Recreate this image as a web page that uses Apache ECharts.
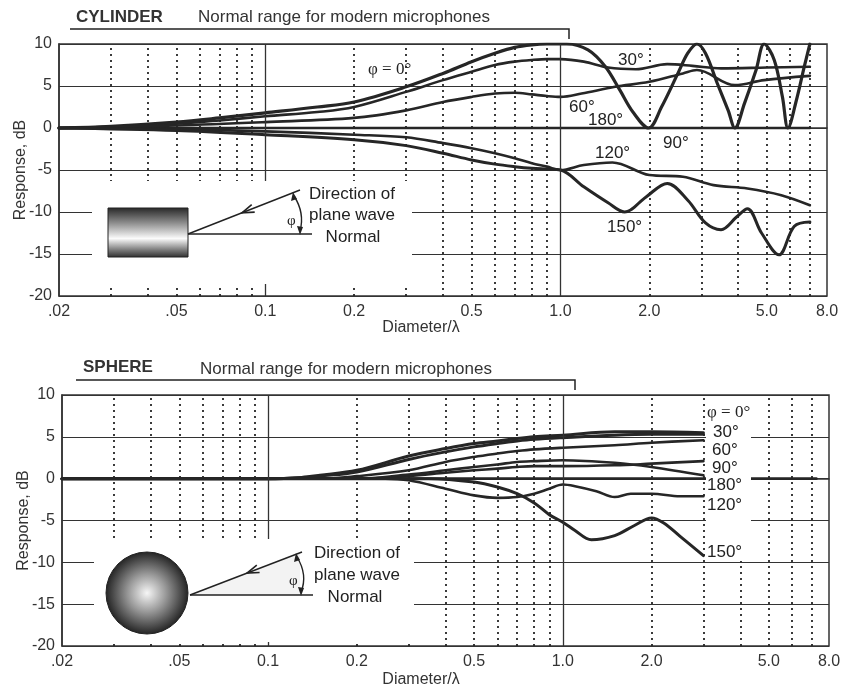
<!DOCTYPE html>
<html>
<head>
<meta charset="utf-8">
<script src="https://cdn.jsdelivr.net/npm/echarts@6/dist/echarts.min.js"></script>
<style>
  html, body { margin: 0; background: #fff; }
  #chart { width: 846px; height: 690px; }
</style>
</head>
<body>
<div id="chart"></div>
<script>
// tick labels along Diameter/lambda
const xTicks = [0.02, 0.05, 0.1, 0.2, 0.5, 1, 2, 5, 8];
const xTickLabels = ['.02', '.05', '0.1', '0.2', '0.5', '1.0', '2.0', '5.0', '8.0'];
// vertical grid lines
const dottedX = [0.03, 0.04, 0.05, 0.06, 0.07, 0.08, 0.09, 0.2, 0.3, 0.4, 0.5, 0.6, 0.7, 0.8, 0.9, 2, 3, 4, 5, 6, 7];
const solidX = [0.1, 1];

// CYLINDER curves  [diameter/lambda, dB]
const cyl0 = [[0.02, 0], [0.03, 0.2], [0.05, 0.7], [0.07, 1.2], [0.1, 1.8], [0.15, 2.5], [0.2, 3.1], [0.3, 4.9],
  [0.4, 6.5], [0.5, 7.9], [0.6, 8.9], [0.7, 9.6], [0.8, 9.9], [0.9, 10], [1.05, 10], [1.24, 9.3], [1.42, 7.3],
  [1.59, 4.5], [1.76, 1.9], [1.99, 0], [2.2, 2.5], [2.5, 6.5], [2.7, 8.9], [2.9, 10], [3.1, 8.9], [3.4, 5.3],
  [3.7, 2.1], [3.9, 0], [4.2, 2.9], [4.6, 6.9], [4.9, 10], [5.3, 8.1], [5.65, 3.7], [5.9, 0], [6.3, 3.3],
  [6.7, 7.3], [7.0, 10]];
const cyl30 = [[0.02, 0], [0.03, 0.15], [0.05, 0.5], [0.07, 0.9], [0.1, 1.4], [0.15, 1.9], [0.2, 2.5], [0.3, 4.3],
  [0.4, 5.7], [0.5, 6.7], [0.6, 7.5], [0.7, 7.9], [0.8, 8.1], [0.9, 8.2], [1.0, 8.2], [1.2, 7.9], [1.45, 7.2],
  [1.8, 7.0], [2.3, 7.6], [2.8, 7.4], [3.5, 7.1], [5, 7.2], [7, 7.3]];
const cyl60 = [[0.02, 0], [0.05, 0.3], [0.1, 0.7], [0.2, 1.2], [0.3, 2.1], [0.4, 3.1], [0.5, 3.7], [0.6, 4.1],
  [0.7, 4.2], [0.8, 4.0], [0.9, 3.8], [1.0, 3.7], [1.18, 4.1], [1.53, 4.9], [2.0, 5.5], [2.6, 6.5], [2.9, 6.9],
  [3.9, 5.1], [4.9, 5.7], [7, 6.2]];
const cyl90 = [[0.02, 0], [7, 0]];
const cyl120 = [[0.02, 0], [0.05, -0.15], [0.1, -0.4], [0.2, -0.8], [0.3, -1.1], [0.4, -1.8], [0.5, -2.4],
  [0.6, -3.0], [0.7, -3.6], [0.8, -4.2], [0.9, -4.6], [1.0, -5.0], [1.2, -4.4], [1.5, -4.1], [2.0, -5.6],
  [2.6, -5.8], [3.3, -6.8], [4.3, -7.2], [5.6, -8.0], [7, -9.2]];
const cyl150 = [[0.02, 0], [0.05, -0.3], [0.1, -0.8], [0.2, -1.4], [0.3, -2.1], [0.4, -3.0], [0.5, -3.8],
  [0.6, -4.3], [0.7, -4.6], [0.8, -4.8], [0.9, -4.9], [1.0, -5.0], [1.2, -7.0], [1.45, -8.9], [1.65, -10],
  [1.95, -8.2], [2.3, -6.6], [2.7, -8.6], [3.1, -11.3], [3.5, -12.1], [3.95, -10.6], [4.3, -9.6], [4.8, -12.5],
  [5.5, -15.1], [6.2, -11.7], [7, -11.2]];

// SPHERE curves
const sph0 = [[0.02, 0], [0.1, 0], [0.13, 0.15], [0.15, 0.4], [0.2, 1.0], [0.3, 2.7], [0.4, 3.6], [0.5, 4.2],
  [0.6, 4.5], [0.7, 4.8], [0.8, 5.0], [1.0, 5.2], [1.5, 5.6], [2.0, 5.6], [3.0, 5.5]];
const sph30 = [[0.02, 0], [0.1, 0], [0.13, 0.1], [0.15, 0.3], [0.2, 0.8], [0.3, 2.3], [0.4, 3.2], [0.5, 3.8],
  [0.6, 4.2], [0.7, 4.5], [0.8, 4.7], [1.0, 4.9], [1.5, 5.2], [2.0, 5.3], [3.0, 5.3]];
const sph60 = [[0.02, 0], [0.15, 0], [0.2, 0.3], [0.3, 1.0], [0.4, 2.0], [0.5, 2.6], [0.6, 3.0], [0.7, 3.3],
  [0.8, 3.5], [1.0, 3.7], [1.5, 4.0], [2.0, 4.3], [3.0, 4.6]];
const sph90 = [[0.02, 0], [0.2, 0], [0.3, 0.3], [0.4, 0.7], [0.5, 1.0], [0.6, 1.2], [0.7, 1.4], [0.8, 1.5],
  [1.0, 1.5], [1.5, 1.6], [2.0, 1.8], [3.0, 2.1]];
const sph180 = [[0.02, 0], [0.2, 0], [0.3, 0.5], [0.4, 1.0], [0.5, 1.4], [0.6, 1.7], [0.7, 2.0], [0.8, 2.1],
  [1.0, 2.2], [1.5, 1.9], [2.0, 1.4], [3.0, 0.4]];
const sphBase = [[0.02, 0], [7.25, 0]];
const sph120 = [[0.02, 0], [0.25, 0], [0.3, -0.2], [0.4, -1.2], [0.5, -2.0], [0.6, -2.3], [0.7, -2.2], [0.8, -1.8],
  [0.9, -1.2], [1.0, -0.7], [1.1, -0.9], [1.3, -1.5], [1.5, -2.2], [1.7, -1.8], [2.0, -1.8], [2.5, -2.1], [3.0, -2.1]];
const sph150 = [[0.02, 0], [0.35, 0], [0.5, -0.4], [0.6, -1.0], [0.7, -1.8], [0.8, -2.9], [0.9, -4.3], [1.0, -5.2],
  [1.1, -6.2], [1.25, -7.3], [1.5, -6.8], [1.75, -5.6], [2.0, -4.7], [2.2, -5.3], [2.5, -6.9], [3.0, -9.2]];

const FONT = "'Liberation Sans', Arial, Helvetica, sans-serif";
const SERIF = "'Liberation Serif', 'Times New Roman', serif";
const INK = '#262626';

const chart = echarts.init(document.getElementById('chart'));

function curve(name, data, g, width) {
  return {
    name: name,
    type: 'line',
    xAxisIndex: g,
    yAxisIndex: g,
    data: data,
    smooth: 0.35,
    showSymbol: false,
    symbol: 'none',
    silent: true,
    animation: false,
    z: 3,
    lineStyle: { color: INK, width: width || 2.6, cap: 'round', join: 'round' },
    emphasis: { disabled: true }
  };
}

// invisible series that only carries the vertical grid lines
function verticalGrid(g) {
  return {
    type: 'line',
    xAxisIndex: g,
    yAxisIndex: g,
    data: [[0.02, 0]],
    showSymbol: false,
    lineStyle: { width: 0 },
    silent: true,
    animation: false,
    z: 1,
    markLine: {
      symbol: ['none', 'none'],
      silent: true,
      animation: false,
      label: { show: false },
      data: dottedX.map(v => ({ xAxis: v, lineStyle: { type: [2, 4], width: 1.8, color: INK } }))
        .concat(solidX.map(v => ({ xAxis: v, lineStyle: { type: 'solid', width: 1.3, color: '#333' } })))
    }
  };
}

function xAxisDef(g) {
  return {
    type: 'log', logBase: 10, gridIndex: g, min: 0.02, max: 8,
    axisLine: { show: true, lineStyle: { color: '#333', width: 1.5 } },
    axisTick: { show: false },
    axisLabel: { show: false },
    splitLine: { show: false }
  };
}

function yAxisDef(g) {
  return {
    type: 'value', gridIndex: g, min: -20, max: 10, interval: 5,
    name: 'Response, dB',
    nameLocation: 'middle',
    nameGap: 30,
    nameMoveOverlap: false,
    nameTextStyle: { fontFamily: FONT, fontSize: 16, color: '#333' },
    axisLine: { show: true, lineStyle: { color: '#333', width: 1.5 } },
    axisTick: { show: false },
    axisLabel: { fontFamily: FONT, fontSize: 16, color: '#333', margin: 7, padding: [7, 0, 0, 0] },
    splitLine: { show: true, lineStyle: { color: '#333', width: 1.2 } }
  };
}

const option = {
  backgroundColor: '#fff',
  animation: false,
  grid: [
    { left: 59, top: 44, width: 768, height: 252, show: true, borderColor: '#333', borderWidth: 1.5,
      backgroundColor: 'transparent', containLabel: false, outerBoundsMode: 'none' },
    { left: 62, top: 395, width: 767, height: 251, show: true, borderColor: '#333', borderWidth: 1.5,
      backgroundColor: 'transparent', containLabel: false, outerBoundsMode: 'none' }
  ],
  xAxis: [xAxisDef(0), xAxisDef(1)],
  yAxis: [yAxisDef(0), yAxisDef(1)],
  series: [
    verticalGrid(0),
    verticalGrid(1),
    curve('90°', cyl90, 0),
    curve('0°', cyl0, 0, 3.2),
    curve('30°', cyl30, 0),
    curve('60°', cyl60, 0),
    curve('120°', cyl120, 0),
    curve('150°', cyl150, 0, 3.0),
    curve('base', sphBase, 1),
    curve('0°', sph0, 1, 3.0),
    curve('30°', sph30, 1, 3.0),
    curve('60°', sph60, 1),
    curve('90°', sph90, 1),
    curve('180°', sph180, 1),
    curve('120°', sph120, 1),
    curve('150°', sph150, 1, 3.0)
  ]
};

chart.setOption(option);

function txt(text, x, y, opts) {
  opts = opts || {};
  return {
    type: 'text', x: x, y: y, z: 12, silent: true,
    style: {
      text: text,
      fill: opts.fill || '#222',
      fontFamily: opts.family || FONT,
      fontSize: opts.size || 17,
      fontWeight: opts.weight || 'normal',
      align: opts.align || 'left',
      verticalAlign: 'middle'
    }
  };
}
function seg(points, width) {
  return { type: 'polyline', z: 11, silent: true, shape: { points: points },
    style: { stroke: '#222', lineWidth: width || 1.4, fill: null } };
}
function tri(points) {
  return { type: 'polygon', z: 11, silent: true, shape: { points: points }, style: { fill: '#222' } };
}

const graphics = [];

// x tick labels placed through the axis scale
[0, 1].forEach(g => {
  const bottom = g === 0 ? 296 : 646;
  xTicks.forEach((v, i) => {
    const px = chart.convertToPixel({ xAxisIndex: g }, v);
    graphics.push(txt(xTickLabels[i], px, bottom + 16, { size: 16, align: 'center', fill: '#333' }));
  });
});

// titles, brackets, axis names
graphics.push(
  txt('CYLINDER', 76, 17, { weight: 'bold', fill: '#333' }),
  txt('Normal range for modern microphones', 198, 17, { fill: '#333' }),
  seg([[70, 29], [569, 29], [569, 39]], 1.5),
  txt('Diameter/λ', 421, 328, { size: 16, align: 'center', fill: '#333' }),
  txt('SPHERE', 83, 367, { weight: 'bold', fill: '#333' }),
  txt('Normal range for modern microphones', 200, 369, { fill: '#333' }),
  seg([[76, 380], [575, 380], [575, 390]], 1.5),
  txt('Diameter/λ', 421, 680, { size: 16, align: 'center', fill: '#333' })
);

// white areas that break the grid around the insets and the sphere labels
graphics.push(
  { type: 'rect', z: 10, silent: true, shape: { x: 92, y: 181, width: 320, height: 103 }, style: { fill: '#fff' } },
  { type: 'rect', z: 10, silent: true, shape: { x: 94, y: 539, width: 320, height: 103 }, style: { fill: '#fff' } },
  { type: 'rect', z: 10, silent: true, shape: { x: 706, y: 397, width: 45, height: 164 }, style: { fill: '#fff' } }
);

// cylinder inset
graphics.push(
  { type: 'rect', z: 11, silent: true, shape: { x: 108, y: 208, width: 80, height: 49 },
    style: { stroke: '#222', lineWidth: 1,
      fill: new echarts.graphic.LinearGradient(0, 0, 0, 1, [
        { offset: 0, color: '#262626' }, { offset: 0.3, color: '#8a8a8a' },
        { offset: 0.62, color: '#fbfbfb' }, { offset: 0.85, color: '#7a7a7a' }, { offset: 1, color: '#2e2e2e' }
      ]) } },
  seg([[188, 234], [312, 234]]),
  seg([[188, 234], [300, 190]]),
  seg([[251.7, 204.7], [242, 212.8], [254.7, 212.1]], 1.6),
  { type: 'bezierCurve', z: 11, silent: true, shape: { x1: 294, y1: 196, cpx1: 305, cpy1: 213, x2: 300, y2: 231 },
    style: { stroke: '#222', lineWidth: 1.4, fill: null } },
  tri([[293, 192], [291, 201], [297, 199]]),
  tri([[300, 235], [297, 226], [303, 227]]),
  txt('φ', 287, 221, { family: SERIF, size: 15 }),
  txt('Direction of', 352, 194, { align: 'center' }),
  txt('plane wave', 352, 215, { align: 'center' }),
  txt('Normal', 353, 237, { align: 'center' })
);

// sphere inset
graphics.push(
  { type: 'polygon', z: 11, silent: true, shape: { points: [[190, 595], [300, 553], [300, 595]] }, style: { fill: '#f3f3f3' } },
  { type: 'circle', z: 11, silent: true, shape: { cx: 147, cy: 593, r: 41 },
    style: { stroke: '#222', lineWidth: 1,
      fill: new echarts.graphic.RadialGradient(0.5, 0.5, 0.5, [
        { offset: 0, color: '#f6f6f6' }, { offset: 0.45, color: '#9a9a9a' }, { offset: 1, color: '#232323' }
      ]) } },
  seg([[190, 595], [313, 595]]),
  seg([[190, 595], [302, 552]]),
  seg([[256.8, 565.1], [247, 573.1], [259.6, 572.5]], 1.6),
  { type: 'bezierCurve', z: 11, silent: true, shape: { x1: 297, y1: 557, cpx1: 308, cpy1: 575, x2: 301, y2: 592 },
    style: { stroke: '#222', lineWidth: 1.4, fill: null } },
  tri([[296, 553], [294, 562], [300, 560]]),
  tri([[301, 596], [298, 587], [304, 588]]),
  txt('φ', 289, 581, { family: SERIF, size: 15 }),
  txt('Direction of', 357, 553, { align: 'center' }),
  txt('plane wave', 357, 575, { align: 'center' }),
  txt('Normal', 355, 597, { align: 'center' })
);

// curve labels
[
  ['30°', 618, 60], ['60°', 569, 107], ['180°', 588, 120], ['90°', 663, 143],
  ['120°', 595, 153], ['150°', 607, 227],
  ['30°', 713, 432], ['60°', 712, 450], ['90°', 712, 468], ['180°', 707, 485],
  ['120°', 707, 505], ['150°', 707, 552]
].forEach(l => graphics.push(txt(l[0], l[1], l[2])));
graphics.push(
  txt('φ = 0°', 368, 70, { family: SERIF, size: 17 }),
  txt('φ = 0°', 707, 413, { family: SERIF, size: 17 })
);

chart.setOption({ graphic: graphics });

window.addEventListener('resize', () => chart.resize());
</script>
</body>
</html>
